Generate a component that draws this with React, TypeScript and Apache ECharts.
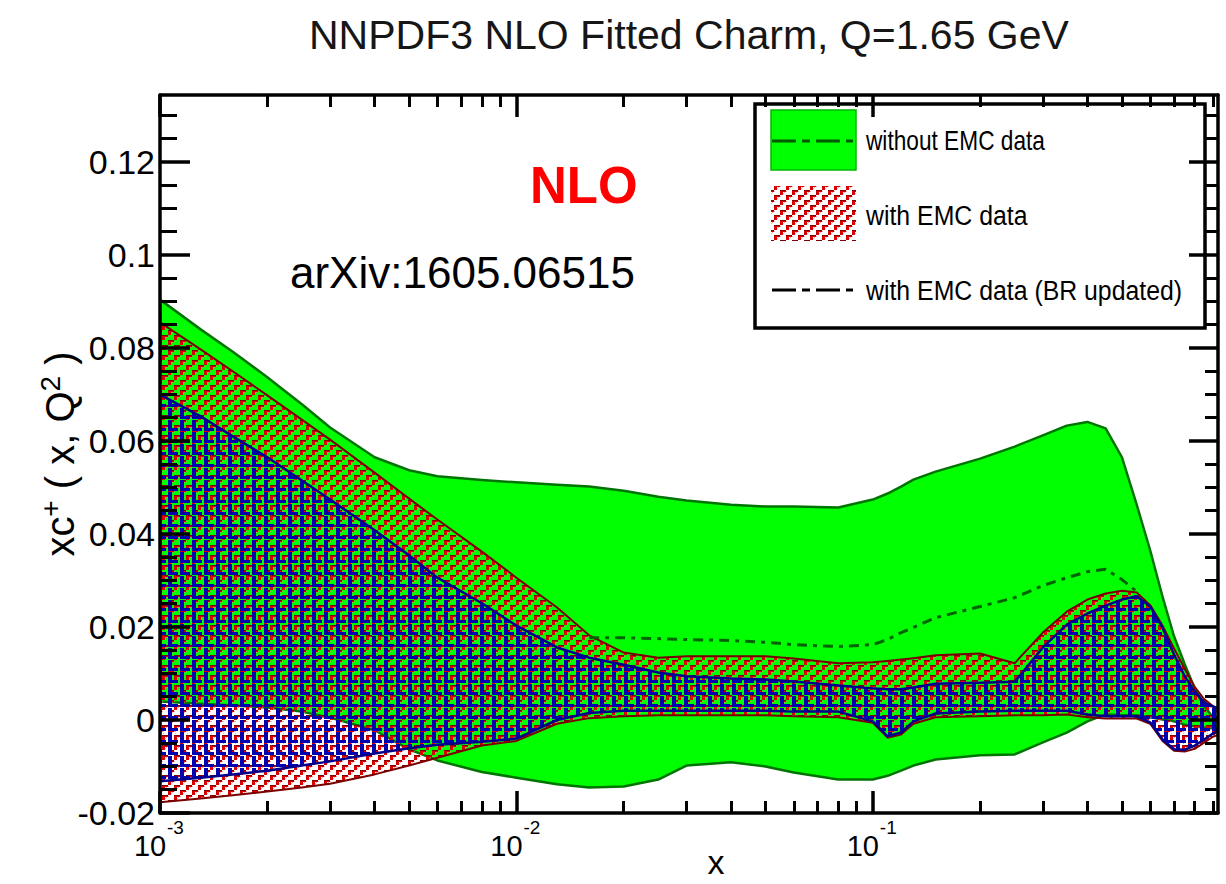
import React, { useEffect, useRef } from 'react';
import * as echarts from 'echarts';

const FONT = '"Liberation Sans", Arial, Helvetica, sans-serif';

// Sampling grid in x shared by the three uncertainty bands
const X = [0.001, 0.0013, 0.0016, 0.002, 0.0025, 0.003, 0.004, 0.005, 0.006, 0.008, 0.01, 0.013, 0.016, 0.02, 0.025, 0.03, 0.04, 0.05, 0.06, 0.08, 0.1, 0.11, 0.12, 0.13, 0.15, 0.2, 0.25, 0.3, 0.35, 0.4, 0.45, 0.5, 0.55, 0.6, 0.65, 0.7, 0.75, 0.8, 0.85, 0.9, 0.93];

// without EMC data (solid green band)
const GREEN_UP = [0.0904, 0.0840, 0.0792, 0.0737, 0.0679, 0.0629, 0.0565, 0.0537, 0.0524, 0.0516, 0.0511, 0.0506, 0.0502, 0.0493, 0.0480, 0.0472, 0.0463, 0.0459, 0.0459, 0.0457, 0.0474, 0.0487, 0.0502, 0.0517, 0.0534, 0.0562, 0.0588, 0.0612, 0.0633, 0.0641, 0.0627, 0.0565, 0.0463, 0.0365, 0.0265, 0.0180, 0.0120, 0.0068, 0.0030, 0.0006, -0.0003];
const GREEN_LO = [0.0040, 0.0035, 0.0031, 0.0027, 0.0018, 0.0005, -0.0022, -0.0063, -0.0087, -0.0112, -0.0124, -0.0138, -0.0145, -0.0143, -0.0128, -0.0098, -0.0091, -0.0100, -0.0113, -0.0128, -0.0128, -0.0120, -0.0109, -0.0098, -0.0085, -0.0076, -0.0074, -0.0048, -0.0027, -0.0003, 0.0012, 0.0010, 0.0010, 0.0006, 0.0001, -0.0003, -0.0010, -0.0014, -0.0016, -0.0018, -0.0019];

// central value of the green band, where it is visible
const CENTER_X = [0.016, 0.02, 0.025, 0.03, 0.04, 0.05, 0.06, 0.08, 0.1, 0.11, 0.12, 0.13, 0.15, 0.2, 0.25, 0.3, 0.35, 0.4, 0.45, 0.5, 0.55];
const CENTER_Y = [0.0177, 0.0177, 0.0175, 0.0173, 0.0171, 0.0167, 0.0162, 0.0158, 0.0162, 0.0173, 0.0188, 0.0199, 0.0220, 0.0244, 0.0263, 0.0289, 0.0306, 0.0319, 0.0324, 0.0302, 0.0276];

// with EMC data (red hatched band)
const RED_UP = [0.0855, 0.0797, 0.0750, 0.0698, 0.0646, 0.0603, 0.0532, 0.0476, 0.0431, 0.0362, 0.0306, 0.0242, 0.0182, 0.0145, 0.0134, 0.0137, 0.0137, 0.0137, 0.0132, 0.0122, 0.0124, 0.0127, 0.0130, 0.0133, 0.0139, 0.0143, 0.0122, 0.0188, 0.0233, 0.0259, 0.0272, 0.0278, 0.0274, 0.0247, 0.0203, 0.0154, 0.0110, 0.0071, 0.0045, 0.0030, 0.0024];
const RED_LO = [-0.0177, -0.0169, -0.0162, -0.0154, -0.0145, -0.0137, -0.0117, -0.0098, -0.0081, -0.0055, -0.0045, -0.0008, 0.0004, 0.0008, 0.0010, 0.0010, 0.0010, 0.0010, 0.0008, 0.0006, -0.0006, -0.0038, -0.0031, -0.0008, 0.0006, 0.0008, 0.0010, 0.0010, 0.0012, 0.0006, 0.0003, 0.0003, 0.0003, -0.0008, -0.0045, -0.0066, -0.0068, -0.0062, -0.0049, -0.0036, -0.0032];

// with EMC data, BR updated (blue hatched band)
const BLUE_UP = [0.0700, 0.0653, 0.0610, 0.0565, 0.0515, 0.0474, 0.0408, 0.0354, 0.0306, 0.0251, 0.0203, 0.0156, 0.0134, 0.0119, 0.0102, 0.0094, 0.0089, 0.0087, 0.0083, 0.0074, 0.0068, 0.0066, 0.0066, 0.0070, 0.0078, 0.0080, 0.0082, 0.0156, 0.0205, 0.0229, 0.0246, 0.0259, 0.0266, 0.0244, 0.0198, 0.0141, 0.0094, 0.0061, 0.0038, 0.0029, 0.0025];
const BLUE_LO = [-0.0132, -0.0124, -0.0117, -0.0109, -0.0098, -0.0089, -0.0072, -0.0061, -0.0053, -0.0047, -0.0040, 0.0000, 0.0015, 0.0020, 0.0020, 0.0020, 0.0020, 0.0020, 0.0018, 0.0018, -0.0003, -0.0035, -0.0027, -0.0003, 0.0014, 0.0018, 0.0020, 0.0020, 0.0020, 0.0012, 0.0008, 0.0008, 0.0008, -0.0005, -0.0042, -0.0063, -0.0064, -0.0055, -0.0042, -0.0029, -0.0025];

// Axis ticks
const X_MAJOR = [0.001, 0.01, 0.1];
const X_MINOR = [0.002, 0.003, 0.004, 0.005, 0.006, 0.007, 0.008, 0.009, 0.02, 0.03, 0.04, 0.05, 0.06, 0.07, 0.08, 0.09, 0.2, 0.3, 0.4, 0.5, 0.6, 0.7, 0.8, 0.9];
const Y_MAJOR = [-0.02, 0, 0.02, 0.04, 0.06, 0.08, 0.1, 0.12];
const Y_MINOR = [-0.015, -0.01, -0.005, 0.005, 0.01, 0.015, 0.025, 0.03, 0.035, 0.045, 0.05, 0.055, 0.065, 0.07, 0.075, 0.085, 0.09, 0.095, 0.105, 0.11, 0.115, 0.125, 0.13];

const X_MIN = 0.001;
const X_MAX = 0.93;
const Y_MIN = -0.02;
const Y_MAX = 0.1344;

// Pixel tiles for the hatched fills
const RED_TILE = [
  'DDDDDD......',
  'RRRRRRP.....',
  'RRR.P.......',
  'RRRP........',
  'RRR.........',
  '......DDDDDD',
  'P.....RRRRRR',
  '......RRR.P.',
  '......RRRP..',
  '......RRR...',
];
const BLUE_TILE = [
  'BBBB........',
  'BBBB...l....',
  'BBBB........',
  'BBBB........',
  'BBBB........',
  'BBBB........',
  'BBBB........',
  'BBBB........',
  'BBBBBBBBBB..',
  'BBBBBBBBBB..',
  'BBBBBBBBBB..',
  '.......l....',
];

function makePattern(rows: string[], palette: Record<string, string>) {
  const h = rows.length;
  const w = rows[0].length;
  const c = document.createElement('canvas');
  c.width = w;
  c.height = h;
  const ctx = c.getContext('2d')!;
  rows.forEach((row, y) => {
    row.split('').forEach((ch, x) => {
      const col = palette[ch];
      if (col) {
        ctx.fillStyle = col;
        ctx.fillRect(x, y, 1, 1);
      }
    });
  });
  return { image: c.toDataURL(), repeat: 'repeat', imageWidth: w, imageHeight: h };
}

function bandSeries(name: string, up: number[], lo: number[], fill: any, stroke: string, lw: number) {
  return {
    type: 'custom',
    name,
    xAxisIndex: 0,
    yAxisIndex: 0,
    clip: true,
    silent: true,
    data: [[X[0], up[0]]],
    renderItem: (_p: any, api: any) => {
      const pts: number[][] = [];
      for (let i = 0; i < X.length; i++) pts.push(api.coord([X[i], up[i]]));
      for (let i = X.length - 1; i >= 0; i--) pts.push(api.coord([X[i], lo[i]]));
      return {
        type: 'polygon',
        shape: { points: pts },
        style: { fill, stroke, lineWidth: lw, lineJoin: 'round' },
      };
    },
  };
}

export default function App() {
  const ref = useRef<HTMLDivElement>(null);

  useEffect(() => {
    document.body.style.margin = '0';
    if (!ref.current) return;
    const chart = echarts.init(ref.current, undefined, { renderer: 'svg' });

    const redPattern = makePattern(RED_TILE, {
      R: '#d80000',
      D: '#7c0000',
      P: 'rgba(240,110,110,0.6)',
    });
    const bluePattern = makePattern(BLUE_TILE, {
      B: '#0000b0',
      l: 'rgba(90,90,255,0.45)',
    });

    const frameLine = { show: true, onZero: false, lineStyle: { color: '#000', width: 3.5 } };
    const hiddenLine = { show: false, onZero: false };
    const hidden = { show: false };
    const noSplit = { show: false };

    const xBase = {
      type: 'log',
      min: X_MIN,
      max: X_MAX,
      logBase: 10,
      splitLine: noSplit,
      z: 10,
    };
    const yBase = {
      type: 'value',
      min: Y_MIN,
      max: Y_MAX,
      splitLine: noSplit,
      z: 10,
    };

    const option: any = {
      animation: false,
      backgroundColor: '#fff',
      title: {
        text: 'NNPDF3 NLO Fitted Charm, Q=1.65 GeV',
        left: 309,
        top: 14,
        padding: 0,
        textStyle: { fontFamily: FONT, fontSize: 41, fontWeight: 'normal', color: '#161616' },
      },
      grid: { left: 160, right: 8, top: 95, bottom: 71, containLabel: false, outerBoundsMode: 'none' },
      xAxis: [
        {
          // bottom frame: major ticks, mantissa of the decade labels, axis title
          ...xBase,
          position: 'bottom',
          axisLine: frameLine,
          axisTick: { show: true, inside: true, length: 22, customValues: X_MAJOR, lineStyle: { color: '#000', width: 3.5 } },
          axisLabel: {
            show: true,
            customValues: X_MAJOR,
            margin: 18,
            formatter: () => '10',
            fontFamily: FONT,
            fontSize: 29,
            lineHeight: 29,
            color: '#000',
            padding: [0, 20, 0, 0],
          },
          name: 'x',
          nameLocation: 'middle',
          nameGap: 36,
          nameMoveOverlap: false,
          nameTextStyle: { fontFamily: FONT, fontSize: 34, lineHeight: 26, color: '#000', padding: [0, 0, 0, 54] },
        },
        {
          // bottom frame: minor ticks and decade exponents
          ...xBase,
          position: 'bottom',
          axisLine: hiddenLine,
          axisTick: { show: true, inside: true, length: 12, customValues: X_MINOR, lineStyle: { color: '#000', width: 3 } },
          axisLabel: {
            show: true,
            customValues: X_MAJOR,
            margin: 5,
            align: 'left',
            formatter: (v: number) => String(Math.round(Math.log10(v))),
            fontFamily: FONT,
            fontSize: 19,
            lineHeight: 19,
            color: '#000',
            padding: [0, 0, 0, 7],
          },
        },
        {
          ...xBase,
          position: 'top',
          axisLine: frameLine,
          axisLabel: hidden,
          axisTick: { show: true, inside: true, length: 22, customValues: X_MAJOR, lineStyle: { color: '#000', width: 3.5 } },
        },
        {
          ...xBase,
          position: 'top',
          axisLine: hiddenLine,
          axisLabel: hidden,
          axisTick: { show: true, inside: true, length: 12, customValues: X_MINOR, lineStyle: { color: '#000', width: 3 } },
        },
      ],
      yAxis: [
        {
          ...yBase,
          position: 'left',
          axisLine: frameLine,
          axisTick: { show: true, inside: true, length: 30, customValues: Y_MAJOR, lineStyle: { color: '#000', width: 3.5 } },
          axisLabel: {
            show: true,
            customValues: Y_MAJOR,
            margin: 5,
            fontFamily: FONT,
            fontSize: 34,
            color: '#000',
          },
          name: '{a|xc}{b|+}{a| ( x, Q}{b|2}{a| )}',
          nameLocation: 'middle',
          nameGap: 80,
          nameMoveOverlap: false,
          nameTextStyle: {
            rich: {
              a: { fontFamily: FONT, fontSize: 40, lineHeight: 44, verticalAlign: 'bottom', color: '#000' },
              b: { fontFamily: FONT, fontSize: 28, lineHeight: 22, verticalAlign: 'top', color: '#000' },
            },
          },
        },
        {
          ...yBase,
          position: 'left',
          axisLine: hiddenLine,
          axisLabel: hidden,
          axisTick: { show: true, inside: true, length: 17, customValues: Y_MINOR, lineStyle: { color: '#000', width: 3 } },
        },
        {
          ...yBase,
          position: 'right',
          axisLine: frameLine,
          axisLabel: hidden,
          axisTick: { show: true, inside: true, length: 29, customValues: Y_MAJOR, lineStyle: { color: '#000', width: 3.5 } },
        },
        {
          ...yBase,
          position: 'right',
          axisLine: hiddenLine,
          axisLabel: hidden,
          axisTick: { show: true, inside: true, length: 13, customValues: Y_MINOR, lineStyle: { color: '#000', width: 3 } },
        },
      ],
      series: [
        bandSeries('without EMC data', GREEN_UP, GREEN_LO, '#00ff00', '#007400', 2.5),
        {
          type: 'line',
          name: 'without EMC data (central)',
          xAxisIndex: 0,
          yAxisIndex: 0,
          data: CENTER_X.map((x, i) => [x, CENTER_Y[i]]),
          showSymbol: false,
          symbol: 'none',
          silent: true,
          clip: true,
          lineStyle: { color: '#006400', width: 3, type: [10, 6, 4, 6] },
        },
        bandSeries('with EMC data', RED_UP, RED_LO, redPattern, '#7a0000', 2),
        bandSeries('with EMC data (BR updated)', BLUE_UP, BLUE_LO, bluePattern, '#00008c', 2.5),
      ],
      graphic: [
        {
          type: 'text',
          x: 530,
          y: 185,
          z: 50,
          style: {
            text: 'NLO',
            fontFamily: FONT,
            fontSize: 51,
            fontWeight: 'bold',
            fill: '#ff0000',
            textAlign: 'left',
            verticalAlign: 'middle',
            textVerticalAlign: 'middle',
          },
        },
        {
          type: 'text',
          x: 290,
          y: 272,
          z: 50,
          style: {
            text: 'arXiv:1605.06515',
            fontFamily: FONT,
            fontSize: 44,
            fill: '#000',
            textAlign: 'left',
            verticalAlign: 'middle',
            textVerticalAlign: 'middle',
          },
        },
        {
          type: 'group',
          z: 100,
          children: [
            {
              type: 'rect',
              shape: { x: 755, y: 104, width: 450, height: 224 },
              style: { fill: '#fff', stroke: '#000', lineWidth: 3.5 },
            },
            {
              type: 'rect',
              shape: { x: 771, y: 110, width: 85, height: 60 },
              style: { fill: '#00ff00', stroke: '#00b800', lineWidth: 1.5 },
            },
            {
              type: 'line',
              shape: { x1: 772, y1: 141, x2: 853, y2: 141 },
              style: { stroke: '#005a00', lineWidth: 3, lineDash: [24, 6, 8, 6] },
            },
            {
              type: 'rect',
              shape: { x: 771, y: 186, width: 85, height: 55 },
              style: { fill: redPattern },
            },
            {
              type: 'line',
              shape: { x1: 772, y1: 290, x2: 853, y2: 290 },
              style: { stroke: '#000', lineWidth: 3, lineDash: [24, 6, 8, 6] },
            },
            {
              type: 'text',
              x: 866,
              y: 140,
              scaleX: 0.84,
              style: { text: 'without EMC data', fontFamily: FONT, fontSize: 27, fill: '#000', textAlign: 'left', verticalAlign: 'middle', textVerticalAlign: 'middle' },
            },
            {
              type: 'text',
              x: 866,
              y: 216,
              scaleX: 0.92,
              style: { text: 'with EMC data', fontFamily: FONT, fontSize: 27, fill: '#000', textAlign: 'left', verticalAlign: 'middle', textVerticalAlign: 'middle' },
            },
            {
              type: 'text',
              x: 866,
              y: 291,
              scaleX: 0.92,
              style: { text: 'with EMC data (BR updated)', fontFamily: FONT, fontSize: 27, fill: '#000', textAlign: 'left', verticalAlign: 'middle', textVerticalAlign: 'middle' },
            },
          ],
        },
      ],
    };

    chart.setOption(option);
    return () => {
      chart.dispose();
    };
  }, []);

  return <div ref={ref} style={{ width: 1226, height: 884, display: 'block' }} />;
}
